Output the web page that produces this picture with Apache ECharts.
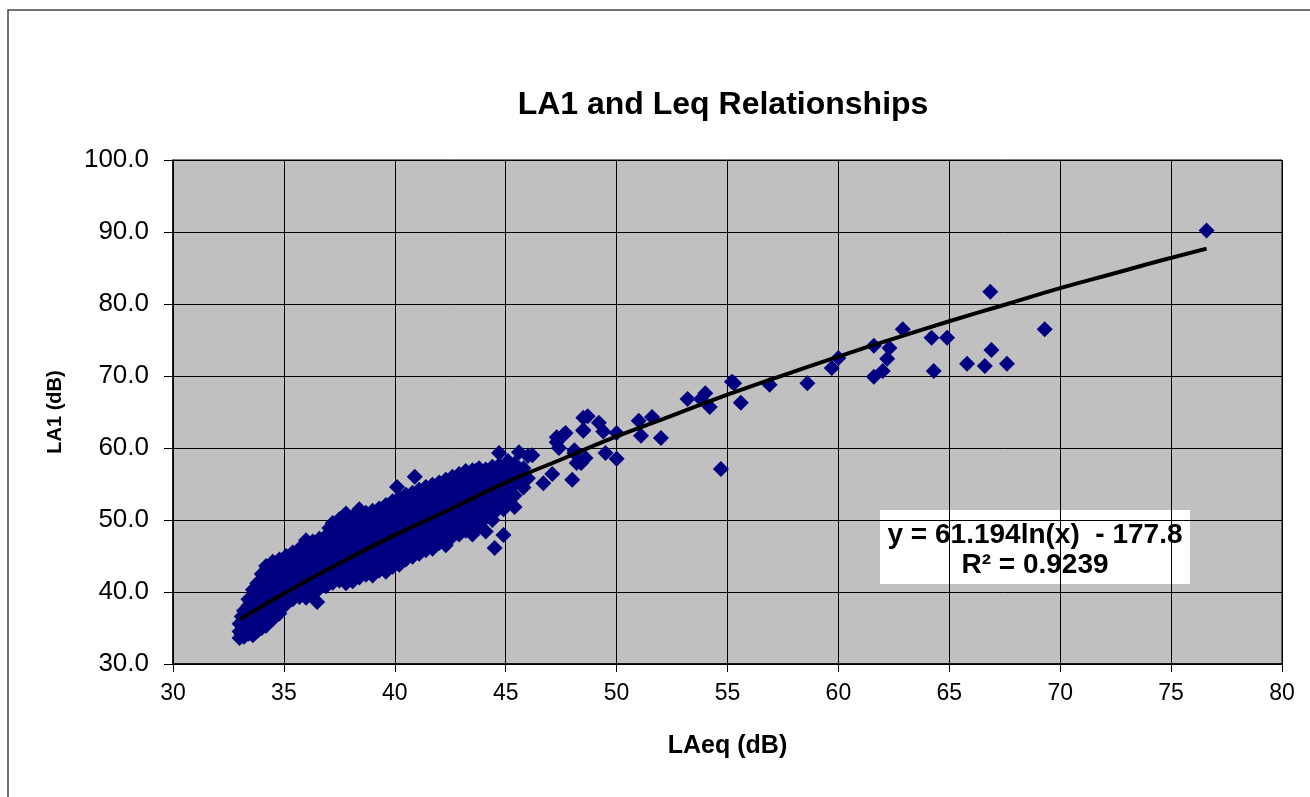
<!DOCTYPE html>
<html>
<head>
<meta charset="utf-8">
<script src="https://cdn.jsdelivr.net/npm/echarts@6/dist/echarts.min.js"></script>
<style>
html,body{margin:0;padding:0;background:#fff;}
#chart{width:1310px;height:797px;}
</style>
</head>
<body>
<div id="chart"></div>
<script>
// ---- Data (LAeq dB, LA1 dB) ----
const chartTitle = 'LA1 and Leq Relationships';
const xAxisName = 'LAeq (dB)';
const yAxisName = 'LA1 (dB)';
const equationLines = ['y = 61.194ln(x)  - 177.8', 'R\u00B2 = 0.9239'];

const clusterLow = [
  [33.0,33.6],[33.0,34.5],[33.0,35.6],
  [33.2,33.8],[33.2,35.0],[33.2,36.3],[33.2,37.4],
  [33.4,34.2],[33.4,35.4],[33.4,36.8],[33.4,38.1],[33.4,39.0],
  [33.6,34.0],[33.6,35.1],[33.6,36.5],[33.6,37.9],[33.6,39.4],[33.6,40.3],
  [33.8,34.6],[33.8,35.8],[33.8,37.2],[33.8,38.6],[33.8,40.0],[33.8,41.2],
  [34.0,35.0],[34.0,36.3],[34.0,37.6],[34.0,39.0],[34.0,40.6],[34.0,41.8],[34.0,42.5],
  [34.2,35.3],[34.2,36.9],[34.2,38.3],[34.2,39.7],[34.2,41.2],[34.2,42.6],[34.2,43.6],
  [34.5,36.2],[34.5,37.5],[34.5,39.0],[34.5,40.4],[34.5,41.8],[34.5,43.0],[34.5,44.2],
  [34.8,37.0],[34.8,38.1],[34.8,39.6],[34.8,41.0],[34.8,42.4],[34.8,43.5],[34.8,44.5],
  [35.1,38.3],[35.1,39.8],[35.1,41.3],[35.1,42.7],[35.1,44.0],[35.1,45.0],
  [35.4,39.0],[35.4,40.2],[35.4,41.6],[35.4,43.0],[35.4,44.3],[35.4,45.5],
  [35.7,39.3],[35.7,40.7],[35.7,42.1],[35.7,43.5],[35.7,44.8],[35.7,46.0],
  [36.0,39.2],[36.0,40.9],[36.0,42.4],[36.0,43.8],[36.0,45.1],[36.0,46.3],[36.0,47.2],
  [36.3,40.0],[36.3,41.3],[36.3,42.8],[36.3,44.2],[36.3,45.7],[36.3,47.0],
  [36.5,38.6],
  [36.6,40.5],[36.6,41.8],[36.6,43.1],[36.6,44.6],[36.6,46.0],[36.6,47.4],
  [36.9,40.8],[36.9,42.3],[36.9,43.6],[36.9,45.0],[36.9,46.4],[36.9,47.8]
];

const clusterMid = [
  [37.2,41.3],[37.2,42.6],[37.2,44.0],[37.2,45.4],[37.2,46.8],[37.2,48.2],[37.2,49.6],
  [37.5,41.6],[37.5,43.0],[37.5,44.5],[37.5,45.8],[37.5,47.3],[37.5,48.7],[37.5,50.1],
  [37.8,41.2],[37.8,42.8],[37.8,44.2],[37.8,45.6],[37.8,47.0],[37.8,48.4],[37.8,49.8],[37.8,50.9],
  [38.1,41.5],[38.1,43.2],[38.1,44.8],[38.1,46.1],[38.1,47.6],[38.1,49.0],[38.1,50.4],
  [38.4,42.0],[38.4,43.5],[38.4,45.0],[38.4,46.5],[38.4,48.0],[38.4,49.3],[38.4,50.6],[38.4,51.5],
  [38.7,42.4],[38.7,43.9],[38.7,45.4],[38.7,46.9],[38.7,48.3],[38.7,49.7],[38.7,51.0],
  [39.0,42.3],[39.0,44.0],[39.0,45.6],[39.0,47.1],[39.0,48.6],[39.0,50.0],[39.0,51.3],
  [39.3,43.0],[39.3,44.5],[39.3,46.1],[39.3,47.6],[39.3,49.0],[39.3,50.5],[39.3,51.6],
  [39.6,42.8],[39.6,44.6],[39.6,46.3],[39.6,47.8],[39.6,49.4],[39.6,50.8],[39.6,52.1],
  [39.9,43.5],[39.9,45.2],[39.9,46.8],[39.9,48.3],[39.9,49.8],[39.9,51.3],[39.9,52.6],
  [40.2,43.8],[40.2,45.6],[40.2,47.2],[40.2,48.7],[40.2,50.2],[40.2,51.7],[40.2,53.1],[40.1,54.6],
  [40.5,44.5],[40.5,45.9],[40.5,47.5],[40.5,49.1],[40.5,50.6],[40.5,52.1],[40.5,53.5],
  [40.8,44.9],[40.8,46.4],[40.8,48.0],[40.8,49.5],[40.8,51.0],[40.8,52.5],[40.8,53.8],[40.9,56.0],
  [41.1,45.3],[41.1,46.7],[41.1,48.3],[41.1,49.8],[41.1,51.4],[41.1,52.9],[41.1,54.2]
];

const clusterHigh = [
  [41.4,45.8],[41.4,47.2],[41.4,48.8],[41.4,50.3],[41.4,51.8],[41.4,53.2],[41.4,54.6],
  [41.7,46.0],[41.7,47.6],[41.7,49.1],[41.7,50.7],[41.7,52.1],[41.7,53.6],[41.7,54.9],
  [42.0,46.8],[42.0,48.1],[42.0,49.6],[42.0,51.0],[42.0,52.5],[42.0,53.9],[42.0,55.2],
  [42.3,46.5],[42.3,48.3],[42.3,50.0],[42.3,51.4],[42.3,52.9],[42.3,54.3],[42.3,55.6],
  [42.6,47.7],[42.6,49.0],[42.6,50.5],[42.6,51.8],[42.6,53.2],[42.6,54.7],[42.6,56.0],
  [42.9,48.0],[42.9,49.4],[42.9,50.8],[42.9,52.3],[42.9,53.6],[42.9,55.0],[42.9,56.4],
  [43.2,48.5],[43.2,50.2],[43.2,51.6],[43.2,53.0],[43.2,54.4],[43.2,55.7],[43.2,56.8],
  [43.5,48.0],[43.5,49.8],[43.5,51.3],[43.5,52.8],[43.5,54.2],[43.5,55.6],[43.5,56.9],
  [43.8,49.2],[43.8,50.4],[43.8,51.9],[43.8,53.3],[43.8,54.7],[43.8,56.1],[43.8,57.2],
  [44.1,48.4],[44.1,50.3],[44.1,51.7],[44.1,53.0],[44.1,54.5],[44.1,55.9],[44.1,57.0],
  [44.5,46.1],[44.4,50.0],[44.4,51.6],[44.4,53.2],[44.4,54.6],[44.4,56.0],[44.4,57.4],
  [44.7,52.0],[44.7,53.6],[44.7,55.0],[44.7,56.3],[44.7,57.6],[44.7,59.3],
  [44.9,47.9],[44.9,51.5],
  [45.1,52.6],[45.1,54.2],[45.1,55.5],[45.1,56.9],[45.1,58.2],
  [45.4,51.8],[45.4,53.4],[45.4,55.0],[45.4,56.4],[45.4,57.8],
  [45.6,56.0],[45.6,59.4],[45.8,54.5],[45.8,57.2],[46.0,58.9],[46.0,55.8]
];

const clusterFill = [
  [33.1,34.1],[33.1,35.3],[33.1,36.6],
  [33.3,34.6],[33.3,35.9],[33.3,37.5],
  [33.5,34.8],[33.5,36.0],[33.5,37.3],[33.5,38.6],
  [33.7,35.6],[33.7,36.9],[33.7,38.3],[33.7,39.7],
  [33.9,35.3],[33.9,36.6],[33.9,38.0],[33.9,39.4],[33.9,40.7],
  [34.1,36.0],[34.1,37.3],[34.1,38.8],[34.1,40.2],[34.1,41.5],
  [34.35,36.5],[34.35,37.9],[34.35,39.4],[34.35,40.9],[34.35,42.3],[34.35,43.3],
  [34.65,37.8],[34.65,39.2],[34.65,40.7],[34.65,42.1],[34.65,43.6],
  [34.95,38.4],[34.95,39.9],[34.95,41.5],[34.95,42.9],[34.95,44.1],
  [35.25,39.1],[35.25,40.5],[35.25,42.0],[35.25,43.4],[35.25,44.7],
  [35.55,39.7],[35.55,41.1],[35.55,42.5],[35.55,43.9],[35.55,45.2],
  [35.85,40.1],[35.85,41.5],[35.85,42.9],[35.85,44.4],[35.85,45.7],
  [36.15,40.5],[36.15,41.9],[36.15,43.4],[36.15,44.8],[36.15,46.2],
  [36.45,40.8],[36.45,42.2],[36.45,43.7],[36.45,45.1],[36.45,46.5],
  [36.75,41.2],[36.75,42.7],[36.75,44.1],[36.75,45.6],[36.75,47.0],
  [37.05,41.8],[37.05,43.2],[37.05,44.7],[37.05,46.1],[37.05,47.5],[37.05,48.9],
  [37.35,42.3],[37.35,43.8],[37.35,45.2],[37.35,46.6],[37.35,48.0],[37.35,49.4],
  [37.65,42.1],[37.65,43.6],[37.65,45.1],[37.65,46.5],[37.65,48.0],[37.65,49.4],[37.65,50.4],
  [37.95,42.3],[37.95,43.9],[37.95,45.4],[37.95,46.9],[37.95,48.3],[37.95,49.7],
  [38.25,42.7],[38.25,44.2],[38.25,45.7],[38.25,47.2],[38.25,48.6],[38.25,50.0],
  [38.55,43.1],[38.55,44.6],[38.55,46.2],[38.55,47.6],[38.55,49.0],[38.55,50.3],
  [38.85,43.3],[38.85,44.8],[38.85,46.3],[38.85,47.8],[38.85,49.3],[38.85,50.6],
  [39.15,43.6],[39.15,45.2],[39.15,46.8],[39.15,48.3],[39.15,49.7],[39.15,51.0],
  [39.45,43.8],[39.45,45.4],[39.45,47.0],[39.45,48.5],[39.45,50.0],[39.45,51.3],
  [39.75,44.2],[39.75,45.9],[39.75,47.5],[39.75,49.0],[39.75,50.5],[39.75,51.9],
  [40.05,44.6],[40.05,46.3],[40.05,47.9],[40.05,49.4],[40.05,50.9],[40.05,52.4],
  [40.35,45.1],[40.35,46.7],[40.35,48.3],[40.35,49.9],[40.35,51.4],[40.35,52.8],
  [40.65,45.6],[40.65,47.2],[40.65,48.7],[40.65,50.3],[40.65,51.8],[40.65,53.2],
  [40.95,46.0],[40.95,47.5],[40.95,49.1],[40.95,50.7],[40.95,52.2],[40.95,53.5],
  [41.25,46.4],[41.25,48.0],[41.25,49.5],[41.25,51.0],[41.25,52.5],[41.25,53.9],
  [41.55,46.8],[41.55,48.4],[41.55,49.9],[41.55,51.4],[41.55,52.9],[41.55,54.2],
  [41.85,47.3],[41.85,48.8],[41.85,50.3],[41.85,51.8],[41.85,53.2],[41.85,54.6],
  [42.15,47.7],[42.15,49.2],[42.15,50.7],[42.15,52.2],[42.15,53.6],[42.15,54.9],
  [42.45,48.1],[42.45,49.6],[42.45,51.1],[42.45,52.6],[42.45,54.0],[42.45,55.3],
  [42.75,48.6],[42.75,50.0],[42.75,51.5],[42.75,53.0],[42.75,54.4],[42.75,55.7],
  [43.05,49.0],[43.05,50.5],[43.05,51.9],[43.05,53.3],[43.05,54.8],[43.05,56.1],
  [43.35,49.3],[43.35,50.8],[43.35,52.3],[43.35,53.7],[43.35,55.1],[43.35,56.4],
  [43.65,49.9],[43.65,51.3],[43.65,52.7],[43.65,54.1],[43.65,55.5],[43.65,56.8],
  [43.95,50.2],[43.95,51.7],[43.95,53.1],[43.95,54.5],[43.95,55.9],[43.95,56.6],
  [44.25,51.0],[44.25,52.4],[44.25,53.8],[44.25,55.2],[44.25,56.6],
  [44.55,51.2],[44.55,52.8],[44.55,54.2],[44.55,55.6],[44.55,56.9],
  [44.85,52.9],[44.85,54.3],[44.85,55.7],[44.85,57.0],
  [45.25,53.8],[45.25,55.2],[45.25,56.6]
];

const sparseMid = [
  [46.2,59.0],[46.7,55.1],[47.1,56.4],[47.3,61.5],[47.3,60.8],[47.4,60.0],[47.7,62.1],[47.6,61.8],
  [48.0,55.6],[48.1,59.7],[48.1,59.3],[48.2,57.9],[48.4,57.9],[48.5,64.2],[48.5,62.4],[48.5,62.5],
  [48.6,58.6],[48.7,64.4],[49.2,63.5],[49.4,62.3],[49.5,59.3],[50.0,62.1],[50.0,58.5],
  [51.0,63.8],[51.1,61.7],[51.6,64.3],[52.0,61.4],[53.2,66.8],[53.8,66.8],[54.0,67.6],
  [54.2,65.7],[54.7,57.1],[55.2,69.2],[55.3,69.0],[55.6,66.3],[56.9,68.8],[58.6,69.0]
];

const sparseHigh = [
  [59.7,71.1],[60.0,72.5],[61.6,74.2],[61.6,69.9],[62.0,70.7],[62.2,72.4],[62.3,73.9],
  [62.9,76.5],[64.2,75.3],[64.3,70.7],[64.9,75.3],[65.8,71.7],[66.6,71.4],[66.85,81.7],
  [66.9,73.6],[67.6,71.7],[69.3,76.5],[76.6,90.2]
];

// trend line points
const trendLine = [
  [33.0,36.2],[34,38.0],[35,39.8],[36,41.5],[38,44.8],[40,47.9],[42.5,51.5],[45,55.2],
  [47.5,58.4],[50,61.6],[52.5,64.5],[55,67.4],[57.5,70.1],[60,72.7],[62.5,75.2],
  [65,77.6],[67.5,79.9],[70,82.2],[72.5,84.3],[74.5,86.0],[76.6,87.7]
];

const xTicks = {min: 30, max: 80, interval: 5};
const yTicks = {min: 30, max: 100, interval: 10};

const points = [].concat(clusterLow, clusterFill, clusterMid, clusterHigh, sparseMid, sparseHigh);

const FONT = 'Liberation Sans, Arial, sans-serif';
const chart = echarts.init(document.getElementById('chart'));
chart.setOption({
  backgroundColor: '#ffffff',
  animation: false,
  title: {
    text: chartTitle,
    left: 718, top: 84, textAlign: 'center',
    textStyle: {fontFamily: FONT, fontSize: 32, fontWeight: 'bold', color: '#000'}
  },
  grid: {left: 173, right: 28, top: 160, bottom: 133, show: true, backgroundColor: '#c0c0c0', borderColor: '#000', borderWidth: 1},
  xAxis: {
    type: 'value', min: xTicks.min, max: xTicks.max, interval: xTicks.interval,
    name: xAxisName, nameLocation: 'middle', nameGap: 70,
    nameTextStyle: {fontFamily: FONT, fontSize: 25, fontWeight: 'bold', color: '#000'},
    axisLine: {lineStyle: {color: '#000', width: 1.5}},
    axisTick: {show: true, inside: false, length: 8, lineStyle: {color: '#000'}},
    axisLabel: {fontFamily: FONT, fontSize: 23, color: '#000', margin: 18},
    splitLine: {show: true, lineStyle: {color: '#000', width: 1}}
  },
  yAxis: {
    type: 'value', min: yTicks.min, max: yTicks.max, interval: yTicks.interval,
    name: yAxisName, nameLocation: 'middle', nameGap: 108, nameRotate: 90,
    nameTextStyle: {fontFamily: FONT, fontSize: 20, fontWeight: 'bold', color: '#000'},
    axisLine: {show: true, lineStyle: {color: '#000', width: 1.5}},
    axisTick: {show: true, inside: false, length: 9, lineStyle: {color: '#000'}},
    axisLabel: {fontFamily: FONT, fontSize: 26, color: '#000', margin: 24, formatter: v => v.toFixed(1)},
    splitLine: {show: true, lineStyle: {color: '#000', width: 1}}
  },
  graphic: [
    {type: 'rect', shape: {x: 8, y: 10, width: 1320, height: 800}, style: {fill: 'none', stroke: '#444', lineWidth: 1.5}, silent: true, z: 0},
    {type: 'group', left: 880, top: 510, z: 100, children: [
      {type: 'rect', shape: {x: 0, y: 0, width: 310, height: 74}, style: {fill: '#ffffff'}},
      {type: 'text', x: 155, y: 25, style: {text: equationLines[0], textAlign: 'center', textVerticalAlign: 'middle', font: 'bold 28px ' + FONT, fill: '#000'}},
      {type: 'text', x: 155, y: 55, style: {text: equationLines[1], textAlign: 'center', textVerticalAlign: 'middle', font: 'bold 28px ' + FONT, fill: '#000'}}
    ]}
  ],
  series: [
    {
      type: 'scatter', data: points, symbol: 'diamond', symbolSize: 16,
      itemStyle: {color: '#000080', opacity: 1}, z: 3
    },
    {
      type: 'line', data: trendLine, smooth: true, showSymbol: false,
      lineStyle: {color: '#000', width: 4}, z: 4
    }
  ]
});
</script>
</body>
</html>
